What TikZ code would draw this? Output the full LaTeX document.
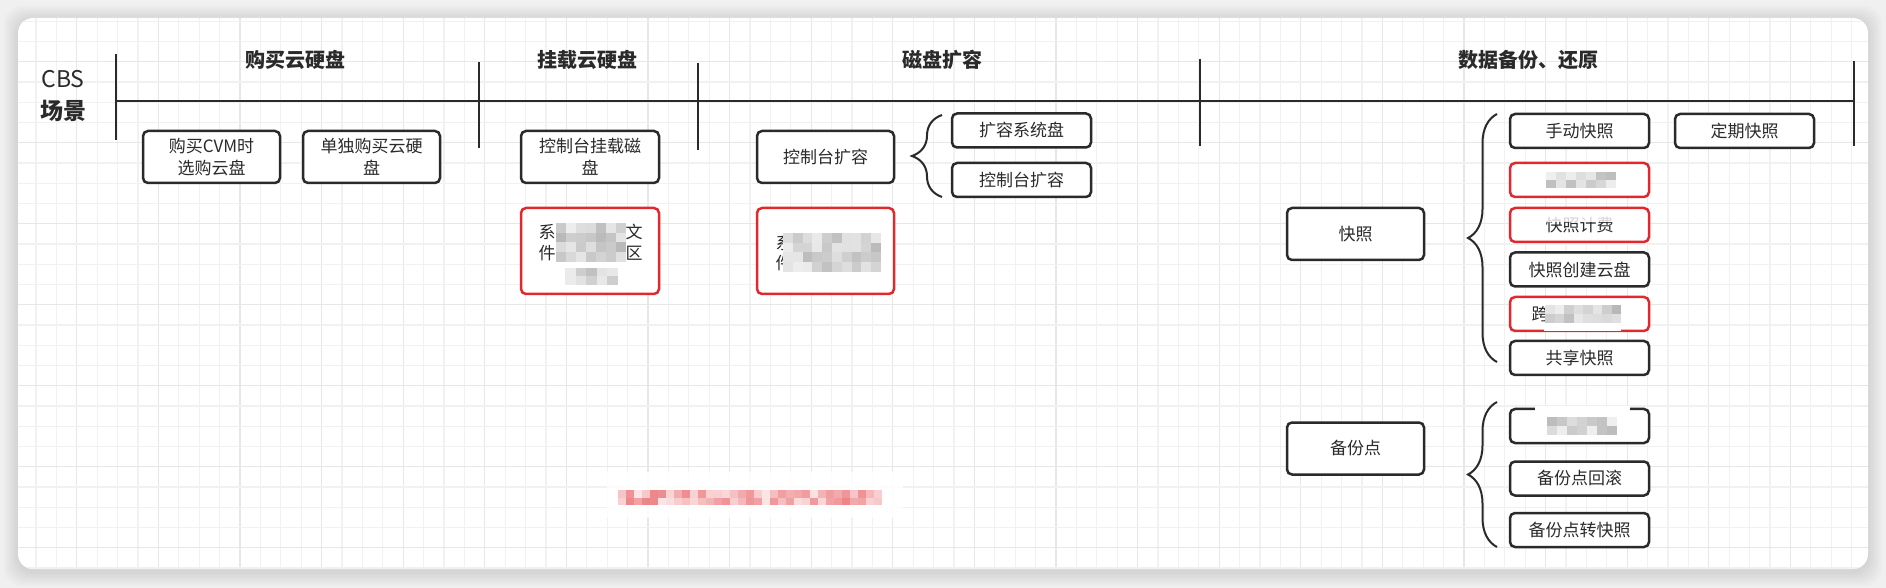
\documentclass[tikz,border=0pt]{standalone}
\usepackage{fontspec}
\setmainfont{Noto Sans CJK SC}
\usetikzlibrary{decorations.pathreplacing}
\definecolor{ink}{HTML}{2A2A2A}
\definecolor{redc}{HTML}{E0282E}
\definecolor{bgc}{HTML}{F0F0F0}
\definecolor{gridminor}{HTML}{F1F1F1}
\definecolor{gridmajor}{HTML}{E7E7E7}
\newcommand\mosaicblk[7]{%
  \foreach \mi in {1,...,#3}{\foreach \mj in {1,...,#4}{%
    \pgfmathsetmacro\mop{0.12+0.45*rnd}%
    \fill[#7, opacity=\mop] ({#1+(\mi-1)*#5},{#2+(\mj-1)*#6}) rectangle ++(#5,#6);}}}
\begin{document}
\begin{tikzpicture}[x=0.5pt,y=-0.5pt,
  box/.style={draw=ink, line width=1.25pt, rounded corners=2.5pt, fill=white, align=center,
    inner sep=0pt, text=ink, font=\fontsize{8.5}{10.8}\selectfont, minimum width=68.5pt},
  redbox/.style={box, draw=redc},
  tall/.style={minimum height=26pt},
  short/.style={minimum height=17pt},
  redtall/.style={minimum height=43pt},
  sec/.style={font=\fontsize{10}{12}\selectfont\bfseries, text=ink, inner sep=0pt},
  chr/.style={font=\fontsize{8.5}{10.8}\selectfont, text=ink, inner sep=0pt},
  axis/.style={line width=1.4pt, draw=ink},
  brc/.style={decorate, decoration={brace, amplitude=15pt}, line width=1pt, draw=ink}]
\pgfmathsetseed{11}
\useasboundingbox (0,0) rectangle (1886,588);
\fill[bgc] (0,0) rectangle (1886,588);
% shadow
\foreach \s in {1,...,9}{
  \fill[black, opacity=0.012, rounded corners=9pt] ({18-\s*1.6},{20-\s*1.6}) rectangle ({1868+\s*1.6},{572+\s*1.6});
}
\fill[white, rounded corners=7.5pt] (18,18) rectangle (1868,569);
\begin{scope}
\clip[rounded corners=7.5pt] (18,18) rectangle (1868,569);
\foreach \k in {-3,...,88}{
  \pgfmathtruncatemacro\mm{mod(\k+400,4)}
  \ifnum\mm=0 \def\gc{gridmajor}\else\def\gc{gridminor}\fi
  \draw[\gc, line width=0.6pt] ({76.7+20.4*\k},18) -- ++(0,551); }
\foreach \k in {-2,...,25}{
  \pgfmathtruncatemacro\mm{mod(\k+400,4)}
  \ifnum\mm=0 \def\gc{gridmajor}\else\def\gc{gridminor}\fi
  \draw[\gc, line width=0.6pt] (18,{61.7+20.25*\k}) -- ++(1850,0); }
\end{scope}

% title
\node[inner sep=0pt, text=ink, font=\fontsize{11.5}{14}\selectfont] (cbs) at (63,79) {CBS};
\node[inner sep=0pt, text=ink, font=\fontsize{11.5}{14}\selectfont\bfseries] (cj) at (63,111) {场景};

% axis
\coordinate (L0) at (116,101);
\coordinate (L1) at (1854,101);
\draw[axis] (L0) -- (L1);
\foreach \n/\x/\a/\b in {1/116/54/140, 2/479/62/148, 3/698/63/150, 4/1200/59/146, 5/1854/61/146}{
  \coordinate (v\n a) at (\x,\a);
  \coordinate (v\n b) at (\x,\b);
  \draw[axis] (v\n a) -- (v\n b);
}

% section labels
\node[sec] (sec1) at (295,60) {购买云硬盘};
\node[sec] (sec2) at (587,60) {挂载云硬盘};
\node[sec] (sec3) at (942,60) {磁盘扩容};
\node[sec] (sec4) at (1528,60) {数据备份、还原};

% buy
\node[box, tall] (b1) at (211.5,157) {购买CVM时\\选购云盘};
\node[box, tall] (b2) at (371.5,157) {单独购买云硬\\盘};
% mount
\node[box, tall, minimum width=69pt] (b3) at (590,157) {控制台挂载磁\\盘};
\node[redbox, redtall, minimum width=69pt] (r1) at (590,251) {};
\node[chr] (r1a) at (547,232) {系};
\node[chr] (r1b) at (634,232) {文};
\node[chr] (r1c) at (547,253) {件};
\node[chr] (r1d) at (634,253) {区};
\mosaicblk{556}{223}{7}{4}{10}{9.75}{gray}
\mosaicblk{565}{268}{5}{2}{10.6}{8.5}{gray}

% expand
\node[box, tall, minimum width=68.5pt] (b4) at (825.5,157) {控制台扩容};
\node[redbox, redtall, minimum width=68.5pt] (r2) at (825.5,251) {};
\node[chr] (r2a) at (784,243) {系};
\node[chr] (r2b) at (784,263) {件};
\fill[white] (783,232) rectangle (882,274);
\mosaicblk{783}{233}{10}{4}{9.8}{9.75}{gray}
\coordinate (br1a) at (942,197);
\coordinate (br1b) at (942,115);
\draw[brc] (br1a) -- (br1b);
\node[box, short, minimum width=69.5pt] (e1) at (1021.5,130.5) {扩容系统盘};
\node[box, short, minimum width=69.5pt] (e2) at (1021.5,180) {控制台扩容};

% snapshots
\node[box, tall] (s0) at (1355.5,234) {快照};
\coordinate (br2a) at (1497,362);
\coordinate (br2b) at (1497,114);
\draw[brc, decoration={brace, amplitude=14.5pt}] (br2a) -- (br2b);
\node[box, short, minimum width=69.5pt] (s1) at (1579.5,131) {手动快照};
\node[box, short, minimum width=69.5pt] (s7) at (1744.5,131) {定期快照};
\node[redbox, short, minimum width=69.5pt] (s2) at (1579.5,180) {};
\mosaicblk{1546}{172}{7}{2}{10}{8}{gray}
\node[redbox, short, minimum width=69.5pt] (s3) at (1579.5,225) {快照计费};
\fill[white, opacity=0.8] (1545,214) rectangle (1617,222);
\node[box, short, minimum width=69.5pt] (s4) at (1579.5,269.5) {快照创建云盘};
\node[redbox, short, minimum width=69.5pt] (s5) at (1579.5,314) {};
\node[chr] (s5a) at (1540,314) {跨};
\fill[white] (1545,303) rectangle (1621,324);
\mosaicblk{1545}{305}{8}{2}{9.5}{9}{gray}
\fill[white] (1544,324) rectangle (1621,331.5);
\node[box, short, minimum width=69.5pt] (s6) at (1579.5,358) {共享快照};

% backup points
\node[box, tall] (p0) at (1355.5,448.5) {备份点};
\coordinate (br3a) at (1497,547);
\coordinate (br3b) at (1497,402);
\draw[brc, decoration={brace, amplitude=14.5pt}] (br3a) -- (br3b);
\node[box, short, minimum width=69.5pt] (p1) at (1579.5,426) {};
\fill[white] (1535,406) rectangle (1630,412);
\mosaicblk{1547}{417}{7}{2}{10}{9}{gray}
\node[box, short, minimum width=69.5pt] (p2) at (1579.5,478.5) {备份点回滚};
\node[box, short, minimum width=69.5pt] (p3) at (1579.5,530) {备份点转快照};

% blurred red note
\fill[white, opacity=0.85] (607,472) rectangle (903,518);
\mosaicblk{618}{490}{33}{2}{8}{7.5}{redc}
\end{tikzpicture}
\end{document}
